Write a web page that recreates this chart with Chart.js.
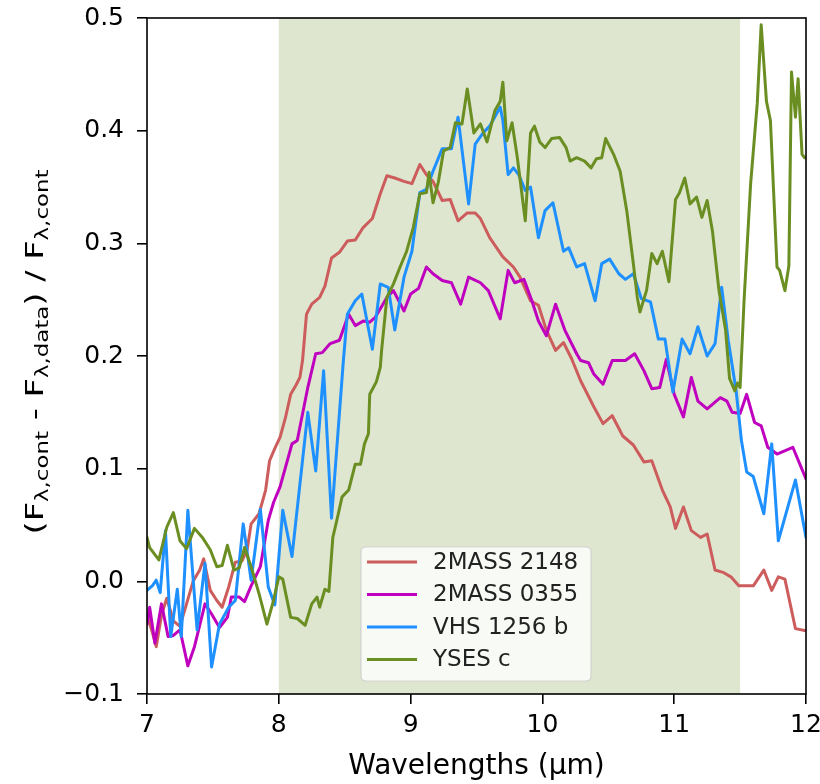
<!DOCTYPE html>
<html>
<head>
<meta charset="utf-8">
<script src="https://cdn.jsdelivr.net/npm/chart.js@4.4.1/dist/chart.umd.min.js"></script>
<style>
  html, body { margin: 0; padding: 0; background: #fff; }
  #wrap { width: 820px; height: 784px; }
</style>
</head>
<body>
<div id="wrap"><canvas id="c" width="820" height="784"></canvas></div>
<script>
// ---------------- DATA ----------------
const seriesLabels = ['2MASS 2148', '2MASS 0355', 'VHS 1256 b', 'YSES c'];

const wl2148 = [7.00,7.04,7.07,7.11,7.15,7.20,7.25,7.30,7.35,7.40,7.43,7.48,7.53,7.57,7.62,7.67,7.72,7.76,7.79,7.85,7.90,7.93,7.97,8.01,8.05,8.09,8.13,8.16,8.18,8.21,8.25,8.31,8.35,8.40,8.46,8.52,8.58,8.64,8.71,8.77,8.82,8.88,8.95,9.01,9.07,9.12,9.17,9.24,9.30,9.36,9.43,9.49,9.53,9.60,9.70,9.78,9.83,9.91,9.97,10.03,10.10,10.16,10.22,10.29,10.39,10.46,10.53,10.61,10.69,10.77,10.83,10.91,10.97,11.01,11.07,11.13,11.20,11.25,11.31,11.37,11.43,11.49,11.60,11.68,11.74,11.79,11.84,11.92,12.00];
const fx2148 = [-0.030,-0.045,-0.058,-0.030,-0.015,-0.035,-0.040,-0.020,0.000,0.010,0.020,-0.008,-0.017,-0.023,-0.005,0.017,0.018,0.028,0.051,0.060,0.081,0.107,0.118,0.128,0.145,0.166,0.174,0.181,0.196,0.237,0.246,0.252,0.262,0.287,0.292,0.302,0.303,0.314,0.322,0.344,0.360,0.358,0.355,0.353,0.370,0.361,0.355,0.338,0.339,0.320,0.327,0.327,0.322,0.305,0.288,0.279,0.270,0.249,0.245,0.223,0.205,0.212,0.198,0.178,0.155,0.140,0.147,0.129,0.121,0.106,0.107,0.081,0.066,0.047,0.066,0.045,0.039,0.042,0.010,0.008,0.004,-0.004,-0.004,0.010,-0.008,0.004,0.002,-0.042,-0.044];

const wl0355 = [7.00,7.02,7.06,7.11,7.16,7.20,7.25,7.31,7.36,7.44,7.49,7.55,7.61,7.64,7.70,7.74,7.79,7.86,7.92,7.96,8.01,8.10,8.14,8.22,8.28,8.33,8.39,8.46,8.53,8.58,8.64,8.69,8.73,8.82,8.87,8.95,9.00,9.06,9.12,9.17,9.24,9.31,9.38,9.44,9.53,9.59,9.68,9.74,9.79,9.86,9.92,9.97,10.03,10.10,10.17,10.26,10.29,10.35,10.39,10.46,10.53,10.63,10.70,10.77,10.83,10.89,10.94,11.00,11.07,11.13,11.18,11.25,11.35,11.40,11.44,11.50,11.55,11.61,11.66,11.71,11.78,11.90,12.00];
const fx0355 = [-0.038,-0.023,-0.055,-0.020,-0.049,-0.048,-0.043,-0.075,-0.058,-0.020,-0.029,-0.041,-0.032,-0.014,-0.014,-0.018,-0.004,0.013,0.054,0.070,0.084,0.122,0.125,0.172,0.202,0.203,0.211,0.214,0.237,0.227,0.231,0.230,0.234,0.252,0.258,0.240,0.255,0.260,0.279,0.273,0.267,0.265,0.246,0.270,0.265,0.258,0.233,0.276,0.265,0.268,0.249,0.231,0.218,0.246,0.223,0.202,0.196,0.194,0.184,0.175,0.196,0.196,0.202,0.187,0.171,0.172,0.197,0.166,0.146,0.181,0.160,0.153,0.163,0.160,0.150,0.149,0.166,0.141,0.138,0.119,0.113,0.119,0.091];

const wl1256 = [7.00,7.04,7.07,7.10,7.14,7.18,7.23,7.26,7.31,7.38,7.44,7.49,7.55,7.62,7.67,7.73,7.79,7.86,7.92,7.97,8.03,8.10,8.22,8.28,8.34,8.40,8.49,8.52,8.58,8.63,8.71,8.77,8.83,8.88,8.95,9.01,9.07,9.12,9.17,9.24,9.31,9.36,9.44,9.49,9.55,9.60,9.68,9.70,9.74,9.78,9.82,9.87,9.91,9.97,10.02,10.08,10.16,10.20,10.26,10.32,10.40,10.45,10.51,10.58,10.63,10.69,10.75,10.82,10.88,10.93,10.99,11.06,11.12,11.18,11.25,11.31,11.36,11.41,11.47,11.51,11.55,11.60,11.68,11.74,11.79,11.92,12.00];
const fx1256 = [-0.008,-0.004,0.001,-0.010,0.045,-0.049,-0.007,-0.049,0.063,-0.043,0.016,-0.076,-0.038,-0.023,-0.017,0.051,0.001,0.064,-0.005,-0.021,0.063,0.022,0.150,0.098,0.187,0.056,0.196,0.237,0.249,0.255,0.206,0.264,0.261,0.223,0.270,0.293,0.345,0.348,0.364,0.384,0.384,0.412,0.335,0.388,0.398,0.404,0.421,0.409,0.361,0.367,0.361,0.347,0.350,0.305,0.329,0.336,0.293,0.296,0.279,0.282,0.249,0.282,0.286,0.273,0.268,0.273,0.251,0.248,0.215,0.215,0.168,0.215,0.202,0.226,0.200,0.211,0.261,0.214,0.169,0.125,0.097,0.093,0.060,0.122,0.036,0.090,0.039];

const wlYSES = [7.00,7.02,7.09,7.15,7.20,7.25,7.30,7.36,7.42,7.48,7.53,7.57,7.61,7.66,7.70,7.74,7.79,7.85,7.91,7.96,8.00,8.03,8.09,8.14,8.20,8.25,8.29,8.31,8.35,8.38,8.41,8.44,8.48,8.53,8.58,8.62,8.65,8.68,8.69,8.74,8.77,8.78,8.82,8.87,8.92,8.97,9.02,9.07,9.12,9.14,9.17,9.21,9.25,9.30,9.34,9.39,9.43,9.48,9.53,9.58,9.64,9.68,9.70,9.73,9.77,9.81,9.87,9.91,9.94,9.98,10.02,10.07,10.13,10.18,10.21,10.26,10.32,10.37,10.41,10.45,10.48,10.54,10.59,10.64,10.69,10.72,10.74,10.79,10.83,10.87,10.91,10.96,11.01,11.04,11.08,11.12,11.17,11.21,11.25,11.29,11.34,11.39,11.42,11.46,11.48,11.50,11.53,11.58,11.63,11.66,11.70,11.73,11.78,11.80,11.84,11.87,11.89,11.92,11.94,11.97,11.99];
const fxYSES = [0.039,0.030,0.019,0.048,0.061,0.036,0.029,0.047,0.039,0.028,0.013,0.014,0.032,0.010,0.012,0.030,0.013,-0.011,-0.038,-0.017,0.004,0.002,-0.032,-0.033,-0.039,-0.020,-0.014,-0.023,-0.007,-0.009,0.039,0.054,0.075,0.081,0.104,0.104,0.122,0.131,0.166,0.177,0.190,0.205,0.252,0.264,0.279,0.293,0.314,0.344,0.345,0.363,0.336,0.354,0.382,0.385,0.407,0.406,0.437,0.398,0.406,0.390,0.418,0.426,0.443,0.391,0.407,0.376,0.320,0.398,0.404,0.390,0.385,0.393,0.394,0.385,0.373,0.376,0.373,0.367,0.375,0.376,0.393,0.379,0.364,0.329,0.282,0.252,0.239,0.258,0.291,0.282,0.293,0.266,0.339,0.345,0.358,0.335,0.341,0.323,0.338,0.311,0.258,0.223,0.180,0.169,0.176,0.172,0.249,0.353,0.424,0.494,0.426,0.409,0.279,0.276,0.258,0.280,0.452,0.412,0.446,0.379,0.376];

const shadeRange = [8, 11.5];
const xTicks = [7, 8, 9, 10, 11, 12];
const yTicks = [-0.1, 0.0, 0.1, 0.2, 0.3, 0.4, 0.5];

// ---------------- STYLE ----------------
const colors = ['#cd5c5c', '#bf00bf', '#1e90ff', '#6b8e23'];
const FONT = "'DejaVu Sans', 'Liberation Sans', sans-serif";
Chart.defaults.font.family = FONT;
Chart.defaults.color = '#000';

function pts(xs, ys) { return xs.map((x, i) => ({ x: x, y: ys[i] })); }
const xsAll = [wl2148, wl0355, wl1256, wlYSES];
const ysAll = [fx2148, fx0355, fx1256, fxYSES];

const datasets = seriesLabels.map((lab, i) => ({
  label: lab,
  data: pts(xsAll[i], ysAll[i]),
  borderColor: colors[i],
  backgroundColor: colors[i],
  borderWidth: 3,
  pointRadius: 0,
  tension: 0,
  fill: false,
  borderJoinStyle: 'round',
  borderCapStyle: 'round',
  order: 4 - i
}));

const shadePlugin = {
  id: 'shade',
  beforeDatasetsDraw(chart) {
    const { ctx, chartArea, scales } = chart;
    const x0 = scales.x.getPixelForValue(shadeRange[0]);
    const x1 = scales.x.getPixelForValue(shadeRange[1]);
    ctx.save();
    ctx.fillStyle = 'rgba(107,142,35,0.22)';
    ctx.fillRect(x0, chartArea.top, x1 - x0, chartArea.bottom - chartArea.top);
    ctx.restore();
  }
};

const legendPlugin = {
  id: 'boxLegend',
  afterDatasetsDraw(chart) {
    const ctx = chart.ctx;
    const bx = 361, by = 547, bw = 230, bh = 134, r = 5;
    ctx.save();
    ctx.beginPath();
    ctx.moveTo(bx + r, by);
    ctx.lineTo(bx + bw - r, by); ctx.quadraticCurveTo(bx + bw, by, bx + bw, by + r);
    ctx.lineTo(bx + bw, by + bh - r); ctx.quadraticCurveTo(bx + bw, by + bh, bx + bw - r, by + bh);
    ctx.lineTo(bx + r, by + bh); ctx.quadraticCurveTo(bx, by + bh, bx, by + bh - r);
    ctx.lineTo(bx, by + r); ctx.quadraticCurveTo(bx, by, bx + r, by);
    ctx.closePath();
    ctx.fillStyle = 'rgba(255,255,255,0.8)';
    ctx.fill();
    ctx.strokeStyle = 'rgba(204,204,204,0.8)';
    ctx.lineWidth = 1.2;
    ctx.stroke();
    ctx.font = '23px ' + FONT;
    ctx.textBaseline = 'middle';
    ctx.textAlign = 'left';
    chart.data.datasets.forEach((ds, i) => {
      const yy = 562 + i * 32.5;
      ctx.beginPath();
      ctx.moveTo(367, yy); ctx.lineTo(417, yy);
      ctx.strokeStyle = ds.borderColor;
      ctx.lineWidth = 3;
      ctx.stroke();
      ctx.fillStyle = '#222';
      ctx.fillText(ds.label, 433, yy + 1);
    });
    ctx.restore();
  }
};

const framePlugin = {
  id: 'frame',
  afterDraw(chart) {
    const { ctx, chartArea } = chart;
    ctx.save();
    ctx.strokeStyle = '#000';
    ctx.lineWidth = 1.6;
    ctx.strokeRect(chartArea.left, chartArea.top, chartArea.right - chartArea.left, chartArea.bottom - chartArea.top);
    ctx.restore();
  }
};

const yTitlePlugin = {
  id: 'yTitle',
  afterDraw(chart) {
    const ctx = chart.ctx;
    const parts = [
      ['(F', false], ['λ,cont', true], [' - F', false], ['λ,data', true],
      [') / F', false], ['λ,cont', true]
    ];
    const mainF = '25px ' + FONT, subF = '17px ' + FONT;
    const targetLen = 365;
    ctx.save();
    let total = 0;
    parts.forEach(p => { ctx.font = p[1] ? subF : mainF; total += ctx.measureText(p[0]).width; });
    const stretch = targetLen / total;
    ctx.translate(43, 352);
    ctx.rotate(-Math.PI / 2);
    ctx.scale(stretch, 1);
    ctx.fillStyle = '#000';
    ctx.textBaseline = 'alphabetic';
    ctx.textAlign = 'left';
    let x = -total / 2;
    parts.forEach(p => {
      ctx.font = p[1] ? subF : mainF;
      ctx.fillText(p[0], x, p[1] ? 5 : 0);
      x += ctx.measureText(p[0]).width;
    });
    ctx.restore();
  }
};

const tickGrid = {
  display: true, drawOnChartArea: false, drawTicks: true,
  tickLength: 10, tickWidth: 1.6, tickColor: '#000', color: '#000', lineWidth: 1.6
};

new Chart(document.getElementById('c'), {
  type: 'line',
  data: { datasets: datasets },
  options: {
    responsive: false,
    animation: false,
    layout: { padding: { top: 18, right: 14, left: 0, bottom: 0 } },
    plugins: { legend: { display: false }, tooltip: { enabled: false } },
    scales: {
      x: {
        type: 'linear', min: xTicks[0], max: xTicks[xTicks.length - 1],
        afterBuildTicks(s) { s.ticks = xTicks.map(v => ({ value: v })); },
        ticks: { font: { size: 25 }, color: '#000', padding: 6, maxRotation: 0,
                 callback: v => String(v) },
        grid: tickGrid,
        border: { display: false },
        title: { display: true, text: 'Wavelengths (µm)', font: { size: 28 }, color: '#000',
                 padding: { top: 0, bottom: 0 } },
        afterFit(s) { s.height = 90; s.paddingLeft = 0; s.paddingRight = 0; }
      },
      y: {
        type: 'linear', min: yTicks[0], max: yTicks[yTicks.length - 1],
        afterBuildTicks(s) { s.ticks = yTicks.map(v => ({ value: v })); },
        ticks: { font: { size: 25 }, color: '#000', padding: 13,
                 callback: v => (Math.abs(v) < 1e-9 ? '0.0' : v.toFixed(1).replace('-', '\u2212')) },
        grid: tickGrid,
        border: { display: false },
        afterFit(s) { s.width = 147; s.paddingTop = 0; s.paddingBottom = 0; }
      }
    }
  },
  plugins: [shadePlugin, legendPlugin, framePlugin, yTitlePlugin]
});
</script>
</body>
</html>
